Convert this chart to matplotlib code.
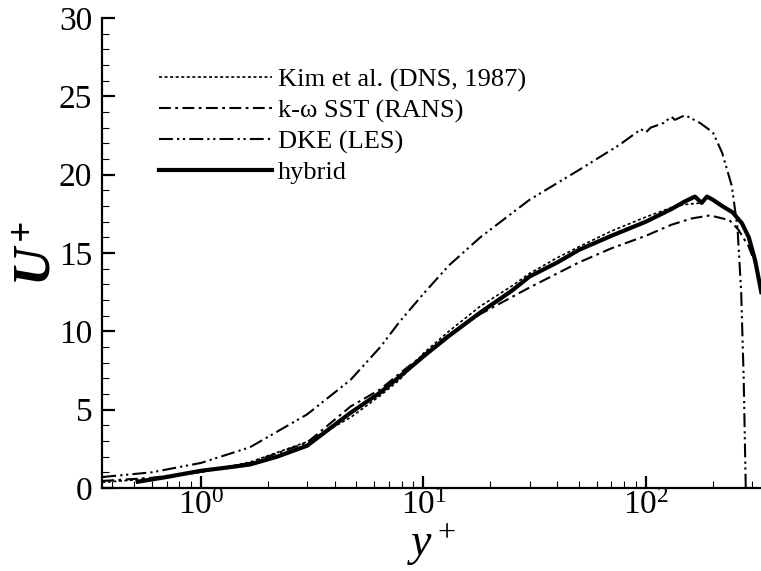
import numpy as np
import matplotlib
matplotlib.use("Agg")
import matplotlib.pyplot as plt
from matplotlib.ticker import MultipleLocator, LogLocator, NullFormatter

plt.rcParams["font.family"] = ["Liberation Serif", "DejaVu Serif"]
plt.rcParams["mathtext.fontset"] = "custom"
plt.rcParams["mathtext.rm"] = "Liberation Serif"
plt.rcParams["mathtext.it"] = "Liberation Serif:italic"
plt.rcParams["mathtext.bf"] = "Liberation Serif:bold:italic"
plt.rcParams["lines.scale_dashes"] = False

# Kim et al. (DNS, 1987)
dns_y = [0.36, 0.6, 1.0, 1.66, 3.0, 4.7, 6.4, 7.8, 10, 13, 18, 25, 30, 40, 50, 70, 100, 130, 150, 180]
dns_u = [0.36, 0.6, 1.0, 1.65, 2.95, 4.5, 5.9, 6.9, 8.6, 10.0, 11.6, 12.9, 13.7, 14.7, 15.4, 16.4, 17.3, 17.9, 18.1, 18.2]

# k-omega SST (RANS)
rans_y = [0.36, 0.6, 1.0, 1.66, 3.0, 4.7, 6.4, 7.8, 10, 13, 18, 30, 50, 70, 100, 130, 160, 194, 237, 260, 290, 310, 330]
rans_u = [0.45, 0.65, 1.05, 1.6, 2.9, 5.2, 6.3, 7.3, 8.5, 9.8, 11.1, 12.8, 14.4, 15.3, 16.1, 16.8, 17.2, 17.4, 17.1, 16.5, 15.4, 14.3, 12.6]

# DKE (LES)
dke_y = [0.36, 0.6, 1.0, 1.66, 3.0, 4.7, 6.4, 7.8, 10, 13, 18, 30, 50, 76, 95, 100, 105,
         120, 130, 135, 150, 175, 200, 220, 243, 258, 268, 275, 281]
dke_u = [0.7, 1.0, 1.6, 2.6, 4.7, 6.9, 9.0, 10.6, 12.4, 14.2, 16.0, 18.4, 20.3, 21.9, 22.9, 22.7, 23.0,
         23.3, 23.7, 23.5, 23.8, 23.3, 22.7, 21.4, 19.3, 16.6, 12.5, 7.0, 0.0]

# hybrid
hyb_y = [0.52, 0.7, 1.0, 1.3, 1.66, 2.2, 3.0, 4.7, 6.4, 7.8, 10, 13, 18, 25, 30, 40, 50, 70, 100,
         130, 150, 166, 178, 188, 200, 220, 245, 270, 290, 310, 330]
hyb_u = [0.4, 0.7, 1.1, 1.3, 1.5, 2.0, 2.7, 4.8, 6.1, 7.1, 8.4, 9.7, 11.2, 12.6, 13.5, 14.4, 15.2, 16.1, 17.0,
         17.8, 18.3, 18.6, 18.2, 18.6, 18.4, 18.0, 17.6, 16.9, 16.0, 14.5, 12.5]

fig = plt.figure(figsize=(7.61, 5.71), dpi=100)
ax = fig.add_axes([102 / 761, 1 - 488 / 571, 1 - 102 / 761, 470 / 571])

ax.plot(dns_y, dns_u, color="black", lw=1.2, dashes=(2.2, 1.8), label="Kim et al. (DNS, 1987)")
ax.plot(rans_y, rans_u, color="black", lw=1.5, dashes=(8.5, 3.2, 2, 3.2), label="k-ω SST (RANS)")
ax.plot(dke_y, dke_u, color="black", lw=1.5, dashes=(10, 3, 1.6, 2.6, 1.6, 3), label="DKE (LES)")
ax.plot(hyb_y, hyb_u, color="black", lw=3.0, label="hybrid")

ax.set_xscale("log")
ax.set_xlim(0.359, 329)
ax.set_ylim(0, 30)

for s in ["top", "right"]:
    ax.spines[s].set_visible(False)
for s in ["left", "bottom"]:
    ax.spines[s].set_linewidth(1.6)

ax.yaxis.set_major_locator(MultipleLocator(5))
ax.yaxis.set_minor_locator(MultipleLocator(1))
ax.xaxis.set_major_locator(LogLocator(base=10, numticks=10))
ax.xaxis.set_minor_locator(LogLocator(base=10, subs=np.arange(2, 10), numticks=20))
ax.xaxis.set_minor_formatter(NullFormatter())

ax.tick_params(which="major", direction="in", length=9, width=1.6, labelsize=24)
ax.tick_params(which="minor", direction="in", length=5, width=0.8)
ax.tick_params(axis="y", which="major", pad=7)
ax.tick_params(axis="x", which="major", pad=2)

ax.set_xlabel("$y^+$", fontsize=33)
ax.xaxis.set_label_coords(0.5, -(571 - 488) / 470 + 0.006)
ax.xaxis.label.set_va("bottom")
ax.set_ylabel(r"$\mathbf{U^+}$", fontsize=38)
ax.yaxis.set_label_coords(-(102 - 62) / 659, 0.5)

leg = ax.legend(loc="upper left", bbox_to_anchor=(0.0865, 0.894), frameon=False,
                fontsize=19, handlelength=4.3, handletextpad=0.2, labelspacing=0.27,
                borderpad=0, borderaxespad=0)

fig.savefig("out.png", dpi=100)
